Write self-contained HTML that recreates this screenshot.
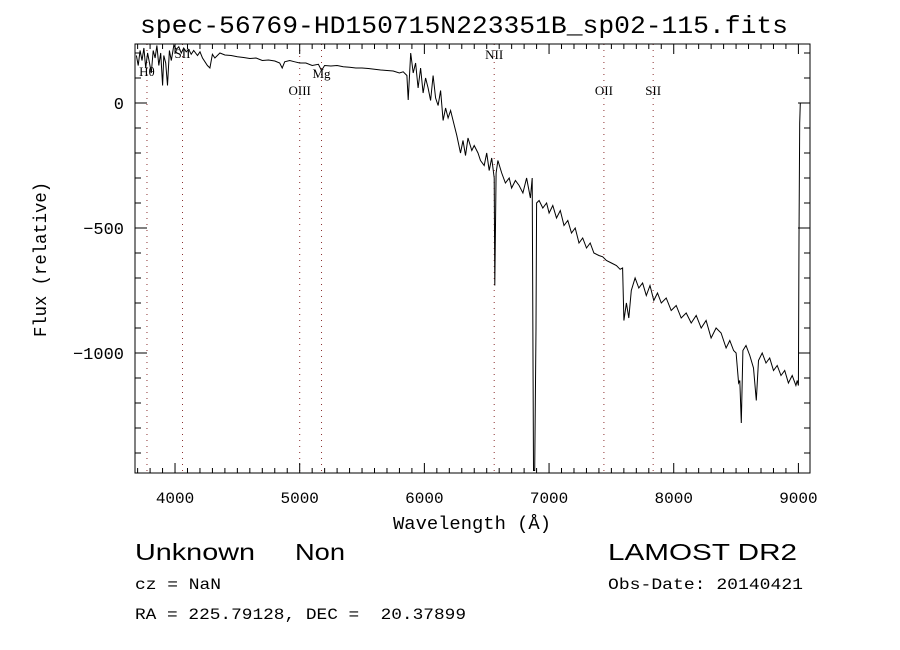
<!DOCTYPE html>
<html><head><meta charset="utf-8"><style>
body{margin:0;background:#fff}
svg{display:block}
text{font-family:"Liberation Serif",serif;fill:#000}
</style></head><body>
<svg id="c" width="900" height="650" viewBox="0 0 900 650">
<rect width="900" height="650" fill="#fff"/>
<text x="140" y="33" textLength="648" lengthAdjust="spacingAndGlyphs" style="font-family:'Liberation Mono',monospace;font-size:25px">spec-56769-HD150715N223351B_sp02-115.fits</text>
<g id="lines"></g>
<g id="axes"></g>
<path id="spec" fill="none" stroke="#000" stroke-width="1"/>
<text x="393" y="529" textLength="158" lengthAdjust="spacingAndGlyphs" style="font-family:'Liberation Mono',monospace;font-size:18px">Wavelength (Å)</text>
<text transform="translate(46,337) rotate(-90)" textLength="155" lengthAdjust="spacingAndGlyphs" style="font-family:'Liberation Mono',monospace;font-size:18px">Flux (relative)</text>
<text x="135" y="560" textLength="120" lengthAdjust="spacingAndGlyphs" style="font-family:'Liberation Sans',sans-serif;font-size:23px">Unknown</text>
<text x="295" y="560" textLength="50" lengthAdjust="spacingAndGlyphs" style="font-family:'Liberation Sans',sans-serif;font-size:23px">Non</text>
<text x="135" y="589" textLength="86" lengthAdjust="spacingAndGlyphs" style="font-family:'Liberation Mono',monospace;font-size:16px">cz = NaN</text>
<text x="135" y="619" textLength="331" lengthAdjust="spacingAndGlyphs" style="font-family:'Liberation Mono',monospace;font-size:16px" xml:space="preserve">RA = 225.79128, DEC =  20.37899</text>
<text x="608" y="560" textLength="189" lengthAdjust="spacingAndGlyphs" style="font-family:'Liberation Sans',sans-serif;font-size:23px">LAMOST DR2</text>
<text x="608" y="589" textLength="195" lengthAdjust="spacingAndGlyphs" style="font-family:'Liberation Mono',monospace;font-size:16px">Obs-Date: 20140421</text>
</svg>
<script>
const wavelengths=[3690,3705,3720,3735,3750,3765,3780,3795,3810,3825,3840,3855,3870,3885,3900,3910,3925,3940,3955,3970,3990,4010,4030,4050,4070,4090,4110,4130,4150,4180,4200,4220,4260,4280,4300,4320,4360,4400,4450,4500,4550,4600,4650,4700,4750,4800,4840,4860,4880,4920,4960,5000,5050,5100,5150,5175,5200,5250,5300,5350,5400,5450,5500,5550,5600,5650,5700,5750,5800,5830,5860,5870,5890,5910,5930,5950,5970,5990,6010,6030,6050,6070,6090,6110,6130,6150,6170,6190,6210,6240,6260,6290,6310,6330,6350,6380,6400,6430,6450,6480,6500,6520,6540,6560,6565,6575,6590,6620,6650,6680,6700,6730,6760,6790,6820,6850,6865,6875,6885,6895,6900,6920,6950,6980,7000,7030,7060,7090,7120,7150,7180,7210,7240,7270,7300,7330,7360,7400,7430,7460,7500,7540,7570,7590,7600,7620,7640,7660,7690,7720,7750,7780,7810,7840,7870,7900,7940,7980,8020,8060,8100,8140,8180,8220,8260,8300,8340,8380,8420,8450,8480,8500,8520,8530,8542,8555,8580,8610,8640,8662,8680,8710,8740,8770,8800,8830,8860,8890,8920,8950,8980,8990,9000,9005,9010,9015];
const flux=[190,150,210,170,220,140,200,160,120,210,180,230,150,200,70,190,160,70,210,170,230,215,225,200,220,205,215,195,210,190,205,180,150,140,195,180,200,192,190,185,182,178,180,170,172,168,160,140,165,170,165,160,160,150,155,130,150,148,150,145,143,140,140,138,135,132,130,128,120,125,110,12,200,120,160,60,140,40,100,60,10,110,20,-10,50,-70,-20,-60,-30,-90,-130,-200,-150,-210,-140,-190,-170,-200,-230,-250,-200,-270,-220,-300,-730,-280,-230,-280,-320,-300,-340,-310,-330,-360,-300,-380,-300,-1470,-1470,-900,-400,-390,-420,-400,-440,-410,-460,-430,-490,-470,-520,-500,-560,-540,-580,-560,-600,-610,-615,-630,-640,-650,-665,-660,-870,-800,-860,-750,-700,-740,-720,-770,-730,-790,-760,-800,-780,-830,-810,-860,-840,-880,-850,-900,-870,-940,-900,-920,-980,-950,-990,-1000,-1120,-1110,-1280,-990,-970,-1010,-1060,-1190,-1030,-1000,-1040,-1020,-1070,-1050,-1090,-1070,-1120,-1090,-1130,-1110,-1130,-540,-80,0];
const lineNames=["H\u03b8","SII","OIII","Mg","NII","OII","SII"];
const lineWaves=[3775,4060,5000,5175,6560,7440,7835];
const lineLabelY=[76,58,95,78,59,95,95];
const xTicks=[4000,5000,6000,7000,8000,9000];
const yTicks=[0,-500,-1000];

const L=135,R=810,T=44,B=473,XMIN=3679,XMAX=9093,YMIN=-1480,YMAX=236;
const X=w=>L+(w-XMIN)/(XMAX-XMIN)*(R-L);
const Y=f=>T+(YMAX-f)/(YMAX-YMIN)*(B-T);
const NS="http://www.w3.org/2000/svg";
function mk(tag,attrs,parent){const e=document.createElementNS(NS,tag);for(const k in attrs)e.setAttribute(k,attrs[k]);parent.appendChild(e);return e;}

let d="";
wavelengths.forEach((w,i)=>{d+=(i?"L":"M")+X(w).toFixed(1)+","+Y(flux[i]).toFixed(1);});
document.getElementById("spec").setAttribute("d",d);

const lg=document.getElementById("lines");
lineWaves.forEach((w,i)=>{
  const x=X(w);
  const ln=mk("line",{x1:x,x2:x,y1:T,y2:B,stroke:"#8b3030","stroke-width":1,"stroke-dasharray":"1,5"},lg);
  
  
  const t=mk("text",{x:x,y:lineLabelY[i],"text-anchor":"middle","font-size":"13"},lg);
  t.textContent=lineNames[i];
  
  
});

const ax=document.getElementById("axes");
const fr=mk("rect",{x:L,y:T,width:R-L,height:B-T,fill:"none",stroke:"#000","stroke-width":1},ax);


for(let w=3700;w<=XMAX;w+=100){
  const x=X(w),len=(w%1000===0)?10:5;
  const tk=mk("path",{d:`M${x},${B}v${-len}M${x},${T}v${len}`,stroke:"#000","stroke-width":1},ax);
  
  
}
xTicks.forEach(w=>{
  const t=mk("text",{x:X(w),y:503,"text-anchor":"middle","font-size":"16"},ax);
  t.style.fontFamily="'Liberation Mono',monospace";
  t.textContent=String(w);
  
  
});
for(let f=200;f>=YMIN;f-=100){
  const y=Y(f),len=(f%500===0)?12:6;
  const tk=mk("path",{d:`M${L},${y}h${len}M${R},${y}h${-len}`,stroke:"#000","stroke-width":1},ax);
  
  
}
yTicks.forEach(f=>{
  const t=mk("text",{x:124,y:Y(f)+6,"text-anchor":"end","font-size":"17"},ax);
  t.style.fontFamily="'Liberation Mono',monospace";
  t.textContent=f===0?"0":"\u2212"+Math.abs(f);
  
  
});
</script>
</body></html>
